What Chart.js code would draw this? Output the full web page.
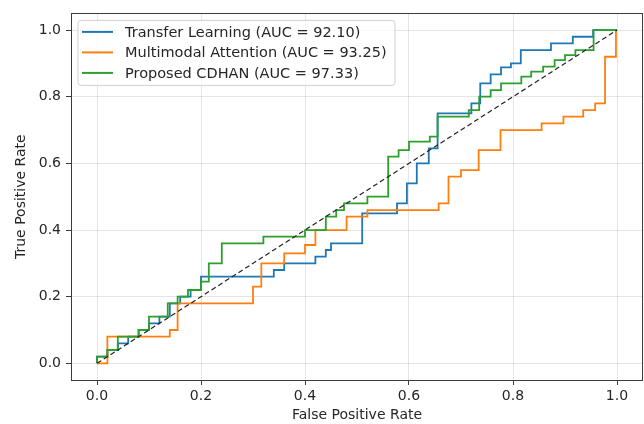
<!DOCTYPE html>
<html>
<head>
<meta charset="utf-8">
<script src="https://cdn.jsdelivr.net/npm/chart.js@4.4.1/dist/chart.umd.min.js"></script>
<style>
html,body{margin:0;padding:0;background:#fff;}
#wrap{width:644px;height:424px;}
</style>
</head>
<body>
<div id="wrap"><canvas id="c" width="644" height="424" style="width:644px;height:424px"></canvas></div>
<script>
// ---- data ----
const seriesNames = ["Transfer Learning (AUC = 92.10)", "Multimodal Attention (AUC = 93.25)", "Proposed CDHAN (AUC = 97.33)"];
const tickValues = [0.0, 0.2, 0.4, 0.6, 0.8, 1.0];

const tlFpr = [0,0,0.02,0.02,0.04,0.04,0.06,0.06,0.08,0.08,0.10,0.10,0.12,0.12,0.14,0.14,0.16,0.16,0.18,0.18,0.20,0.20,0.34,0.34,0.36,0.36,0.42,0.42,0.44,0.44,0.45,0.45,0.51,0.51,0.577,0.577,0.596,0.596,0.615,0.615,0.638,0.638,0.655,0.655,0.72,0.72,0.737,0.737,0.757,0.757,0.777,0.777,0.796,0.796,0.815,0.815,0.873,0.873,0.915,0.915,0.954,0.954,1.0];
const tlTpr = [0,0.02,0.02,0.04,0.04,0.06,0.06,0.08,0.08,0.10,0.10,0.12,0.12,0.14,0.14,0.18,0.18,0.20,0.20,0.22,0.22,0.26,0.26,0.28,0.28,0.30,0.30,0.32,0.32,0.34,0.34,0.36,0.36,0.45,0.45,0.48,0.48,0.54,0.54,0.60,0.60,0.645,0.645,0.75,0.75,0.78,0.78,0.84,0.84,0.867,0.867,0.888,0.888,0.90,0.90,0.94,0.94,0.96,0.96,0.98,0.98,1.0,1.0];

const maFpr = [0,0.02,0.02,0.14,0.14,0.155,0.155,0.30,0.30,0.316,0.316,0.36,0.36,0.40,0.40,0.42,0.42,0.48,0.48,0.52,0.52,0.657,0.657,0.676,0.676,0.70,0.70,0.734,0.734,0.776,0.776,0.855,0.855,0.897,0.897,0.935,0.935,0.958,0.958,0.977,0.977,0.998,0.998];
const maTpr = [0,0,0.08,0.08,0.10,0.10,0.18,0.18,0.23,0.23,0.30,0.30,0.33,0.33,0.355,0.355,0.40,0.40,0.44,0.44,0.46,0.46,0.48,0.48,0.56,0.56,0.58,0.58,0.64,0.64,0.70,0.70,0.72,0.72,0.74,0.74,0.76,0.76,0.78,0.78,0.92,0.92,1.0];

const cdFpr = [0,0,0.02,0.02,0.04,0.04,0.08,0.08,0.10,0.10,0.136,0.136,0.155,0.155,0.175,0.175,0.20,0.20,0.215,0.215,0.24,0.24,0.32,0.32,0.40,0.40,0.44,0.44,0.46,0.46,0.475,0.475,0.52,0.52,0.56,0.56,0.58,0.58,0.60,0.60,0.64,0.64,0.655,0.655,0.715,0.715,0.735,0.735,0.757,0.757,0.777,0.777,0.816,0.816,0.835,0.835,0.858,0.858,0.88,0.88,0.90,0.90,0.92,0.92,0.955,0.955,1.0];
const cdTpr = [0,0.02,0.02,0.04,0.04,0.08,0.08,0.10,0.10,0.14,0.14,0.18,0.18,0.20,0.20,0.22,0.22,0.245,0.245,0.30,0.30,0.36,0.36,0.38,0.38,0.40,0.40,0.44,0.44,0.46,0.46,0.48,0.48,0.50,0.50,0.62,0.62,0.64,0.64,0.665,0.665,0.68,0.68,0.74,0.74,0.76,0.76,0.80,0.80,0.82,0.82,0.84,0.84,0.86,0.86,0.875,0.875,0.89,0.89,0.91,0.91,0.925,0.925,0.94,0.94,1.0,1.0];

const diagX = [0, 1];
const diagY = [0, 1];

const colors = ["#1f77b4", "#ff7f0e", "#2ca02c"];
const FONT = "'DejaVu Sans', sans-serif";

function pts(xs, ys){ return xs.map((x,i)=>({x:x, y:ys[i]})); }

const legendPlugin = {
  id: 'mplLegend',
  afterDraw(chart){
    const ctx = chart.ctx;
    const area = chart.chartArea;
    // frame
    ctx.save();
    ctx.strokeStyle = '#3a3a3a';
    ctx.lineWidth = 1;
    ctx.strokeRect(Math.round(area.left)+0.5, Math.round(area.top)+0.5, Math.round(area.right-area.left)-1, Math.round(area.bottom-area.top));
    // legend box
    const bx = area.left + 7, by = area.top + 7, bw = 317, bh = 65, r = 3;
    ctx.beginPath();
    ctx.moveTo(bx+r, by);
    ctx.lineTo(bx+bw-r, by); ctx.quadraticCurveTo(bx+bw, by, bx+bw, by+r);
    ctx.lineTo(bx+bw, by+bh-r); ctx.quadraticCurveTo(bx+bw, by+bh, bx+bw-r, by+bh);
    ctx.lineTo(bx+r, by+bh); ctx.quadraticCurveTo(bx, by+bh, bx, by+bh-r);
    ctx.lineTo(bx, by+r); ctx.quadraticCurveTo(bx, by, bx+r, by);
    ctx.closePath();
    ctx.fillStyle = 'rgba(255,255,255,0.8)';
    ctx.fill();
    ctx.strokeStyle = '#d0d0d0';
    ctx.stroke();
    ctx.font = "14.5px " + FONT;
    ctx.textBaseline = 'middle';
    ctx.fillStyle = '#262626';
    for (let i = 0; i < 3; i++) {
      const ds = chart.data.datasets[i];
      const yy = by + 11.5 + i*20.5;
      ctx.beginPath();
      ctx.strokeStyle = ds.borderColor;
      ctx.lineWidth = 2;
      ctx.moveTo(bx+4, yy); ctx.lineTo(bx+35, yy);
      ctx.stroke();
      ctx.fillText(ds.label, bx + 47, yy + 1);
    }
    ctx.restore();
  }
};

new Chart(document.getElementById('c'), {
  type: 'scatter',
  data: {
    datasets: [
      {label: seriesNames[0], data: pts(tlFpr, tlTpr), showLine: true, borderColor: colors[0], backgroundColor: colors[0], borderWidth: 1.8, pointRadius: 0, tension: 0, order: 3},
      {label: seriesNames[1], data: pts(maFpr, maTpr), showLine: true, borderColor: colors[1], backgroundColor: colors[1], borderWidth: 1.8, pointRadius: 0, tension: 0, order: 2},
      {label: seriesNames[2], data: pts(cdFpr, cdTpr), showLine: true, borderColor: colors[2], backgroundColor: colors[2], borderWidth: 1.8, pointRadius: 0, tension: 0, order: 1},
      {label: 'diag', data: pts(diagX, diagY), showLine: true, borderColor: '#222', borderWidth: 1.2, borderDash: [5, 3], pointRadius: 0, order: 0}
    ]
  },
  options: {
    responsive: false,
    animation: false,
    maintainAspectRatio: false,
    layout: {padding: {top: 8, right: 1, left: 0, bottom: 0}},
    plugins: {legend: {display: false}, tooltip: {enabled: false}},
    scales: {
      x: {
        type: 'linear', min: -0.05, max: 1.05,
        afterBuildTicks: s => { s.ticks = tickValues.map(v => ({value: v})); },
        afterFit: s => { s.height = 44; },
        ticks: {callback: v => Number(v).toFixed(1), font: {family: FONT, size: 14}, color: '#262626', padding: 3, maxRotation: 0},
        grid: {color: 'rgba(0,0,0,0.1)', tickColor: '#3a3a3a', tickLength: 5, lineWidth: 1},
        border: {display: false},
        title: {display: true, text: 'False Positive Rate', font: {family: FONT, size: 14}, color: '#262626', padding: {top: 2, bottom: 0}}
      },
      y: {
        type: 'linear', min: -0.05, max: 1.05,
        afterBuildTicks: s => { s.ticks = tickValues.map(v => ({value: v})); },
        afterFit: s => { s.width = 71; },
        ticks: {callback: v => Number(v).toFixed(1), font: {family: FONT, size: 14}, color: '#262626', padding: 5},
        grid: {color: 'rgba(0,0,0,0.1)', tickColor: '#3a3a3a', tickLength: 5, lineWidth: 1},
        border: {display: false},
        title: {display: true, text: 'True Positive Rate', font: {family: FONT, size: 14}, color: '#262626', padding: {top: 13, bottom: 0}}
      }
    }
  },
  plugins: [legendPlugin]
});
</script>
</body>
</html>
